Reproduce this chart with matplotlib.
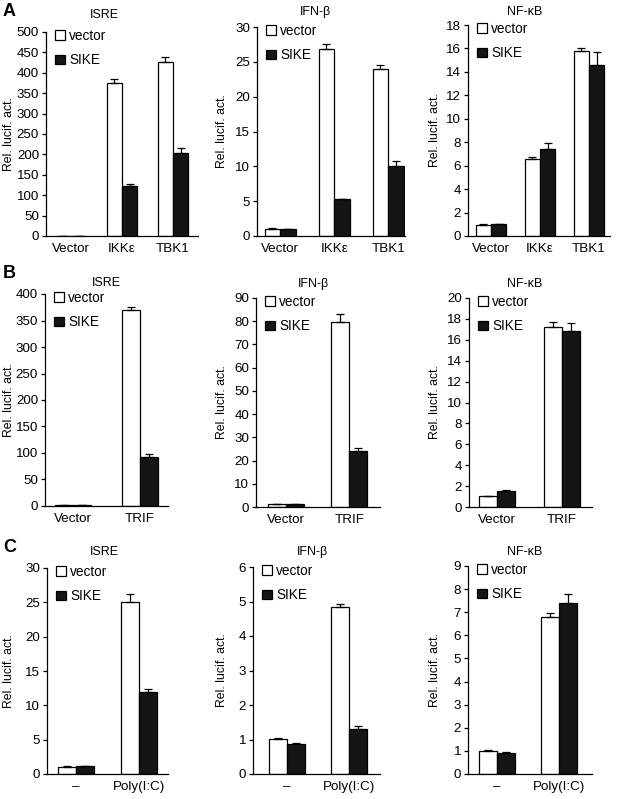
import matplotlib
matplotlib.use('Agg')
import matplotlib.pyplot as plt
import numpy as np

plt.rcParams['font.family'] = ['Liberation Sans', 'DejaVu Sans']
plt.rcParams['font.size'] = 9.6

# row A: vector / IKKe / TBK1
cats_A = ['Vector', 'IKKε', 'TBK1']
isre_A_vec = [1, 376, 426]
isre_A_vec_err = [0, 9, 12]
isre_A_sike = [1, 122, 203]
isre_A_sike_err = [0, 6, 13]

ifn_A_vec = [1.0, 26.9, 24.0]
ifn_A_vec_err = [0.2, 0.6, 0.6]
ifn_A_sike = [1.0, 5.26, 10.0]
ifn_A_sike_err = [0.05, 0.1, 0.75]

nfkb_A_vec = [0.94, 6.53, 15.8]
nfkb_A_vec_err = [0.05, 0.23, 0.28]
nfkb_A_sike = [1.02, 7.42, 14.63]
nfkb_A_sike_err = [0.04, 0.53, 1.05]

# row B: vector / TRIF
cats_B = ['Vector', 'TRIF']
isre_B_vec = [1, 370]
isre_B_vec_err = [0, 6.3]
isre_B_sike = [1, 93]
isre_B_sike_err = [0, 5]

ifn_B_vec = [1.15, 79.5]
ifn_B_vec_err = [0.1, 3.6]
ifn_B_sike = [1.15, 24.0]
ifn_B_sike_err = [0.1, 1.2]

nfkb_B_vec = [1.02, 17.18]
nfkb_B_vec_err = [0.03, 0.48]
nfkb_B_sike = [1.54, 16.86]
nfkb_B_sike_err = [0.12, 0.74]

# row C: - / Poly(I:C)
cats_C = ['–', 'Poly(I:C)']
isre_C_vec = [0.97, 25.06]
isre_C_vec_err = [0.14, 1.11]
isre_C_sike = [1.11, 12.0]
isre_C_sike_err = [0.03, 0.34]

ifn_C_vec = [1.01, 4.83]
ifn_C_vec_err = [0.03, 0.09]
ifn_C_sike = [0.867, 1.31]
ifn_C_sike_err = [0.03, 0.07]

nfkb_C_vec = [1.01, 6.79]
nfkb_C_vec_err = [0.01, 0.17]
nfkb_C_sike = [0.91, 7.42]
nfkb_C_sike_err = [0.04, 0.37]

W, H = 620, 799
fig = plt.figure(figsize=(W / 100, H / 100), dpi=100)


def panel(rect, xlim, cats, vec, vec_err, sike, sike_err, ymax, ystep, width,
          title, title_xy, ylab_x):
    left, right, top, bottom = rect
    ax = fig.add_axes([left / W, 1 - bottom / H, (right - left) / W, (bottom - top) / H])
    x = np.arange(len(cats))
    ekw = dict(elinewidth=0.9, capthick=0.9, ecolor='black')
    b1 = ax.bar(x - width / 2, vec, width, color='white', edgecolor='black', linewidth=0.9,
                yerr=[np.zeros(len(vec)), vec_err], capsize=3.2, error_kw=ekw, label='vector')
    b2 = ax.bar(x + width / 2, sike, width, color='#151515', edgecolor='black', linewidth=0.9,
                yerr=[np.zeros(len(sike)), sike_err], capsize=3.2, error_kw=ekw, label='SIKE')
    ax.set_xlim(*xlim)
    ax.set_ylim(0, ymax)
    ax.set_yticks(np.arange(0, ymax + ystep / 2, ystep))
    ax.set_xticks(x)
    ax.set_xticklabels(cats)
    ax.spines['top'].set_visible(False)
    ax.spines['right'].set_visible(False)
    ax.spines['left'].set_linewidth(0.9)
    ax.spines['bottom'].set_linewidth(0.9)
    ax.tick_params(axis='y', length=3, width=0.9, pad=2)
    ax.tick_params(axis='x', length=0, pad=5)
    ax.legend(handles=[b1, b2], labels=['vector', 'SIKE'], frameon=False,
              loc='upper left', bbox_to_anchor=((left + 9) / W, 1 - (top - 3) / H),
              bbox_transform=fig.transFigure, borderpad=0, borderaxespad=0,
              handlelength=0.7, handleheight=0.7, handletextpad=0.35,
              labelspacing=0.75, fontsize=9.8)
    fig.text(title_xy[0] / W, 1 - title_xy[1] / H, title, ha='center', va='center', fontsize=9)
    fig.text(ylab_x / W, 1 - (top + bottom) / 2 / H, 'Rel. lucif. act.', rotation=90,
             ha='center', va='center', fontsize=8.8)
    return ax


# row A
panel((46, 198, 32, 236), (-0.49, 2.49), cats_A, isre_A_vec, isre_A_vec_err,
      isre_A_sike, isre_A_sike_err, 500, 50, 0.3, 'ISRE', (104, 15), 9)
panel((257, 405, 27, 236), (-0.43, 2.31), cats_A, ifn_A_vec, ifn_A_vec_err,
      ifn_A_sike, ifn_A_sike_err, 30, 5, 0.29, 'IFN-β', (315, 12), 222)
panel((468, 610, 25, 236), (-0.47, 2.43), cats_A, nfkb_A_vec, nfkb_A_vec_err,
      nfkb_A_sike, nfkb_A_sike_err, 18, 2, 0.31, 'NF-κB', (525, 12), 435)

# row B
panel((45, 168, 294, 506), (-0.42, 1.42), cats_B, isre_B_vec, isre_B_vec_err,
      isre_B_sike, isre_B_sike_err, 400, 50, 0.27, 'ISRE', (106, 283), 9)
panel((256, 380, 298, 507), (-0.48, 1.49), cats_B, ifn_B_vec, ifn_B_vec_err,
      ifn_B_sike, ifn_B_sike_err, 90, 10, 0.29, 'IFN-β', (313, 284), 222)
panel((469, 592, 298, 507), (-0.43, 1.46), cats_B, nfkb_B_vec, nfkb_B_vec_err,
      nfkb_B_sike, nfkb_B_sike_err, 20, 2, 0.28, 'NF-κB', (525, 284), 435)

# row C
panel((47, 168, 568, 774), (-0.46, 1.46), cats_C, isre_C_vec, isre_C_vec_err,
      isre_C_sike, isre_C_sike_err, 30, 5, 0.29, 'ISRE', (104, 552), 9)
panel((253, 380, 567, 774), (-0.55, 1.5), cats_C, ifn_C_vec, ifn_C_vec_err,
      ifn_C_sike, ifn_C_sike_err, 6, 1, 0.29, 'IFN-β', (312, 552), 222)
panel((468, 592, 566, 774), (-0.47, 1.53), cats_C, nfkb_C_vec, nfkb_C_vec_err,
      nfkb_C_sike, nfkb_C_sike_err, 9, 1, 0.29, 'NF-κB', (525, 552), 435)

for letter, y in [('A', 12), ('B', 273), ('C', 548)]:
    fig.text(3 / W, 1 - y / H, letter, fontsize=13, fontweight='bold', ha='left', va='center')

fig.savefig('out.png', dpi=100)
